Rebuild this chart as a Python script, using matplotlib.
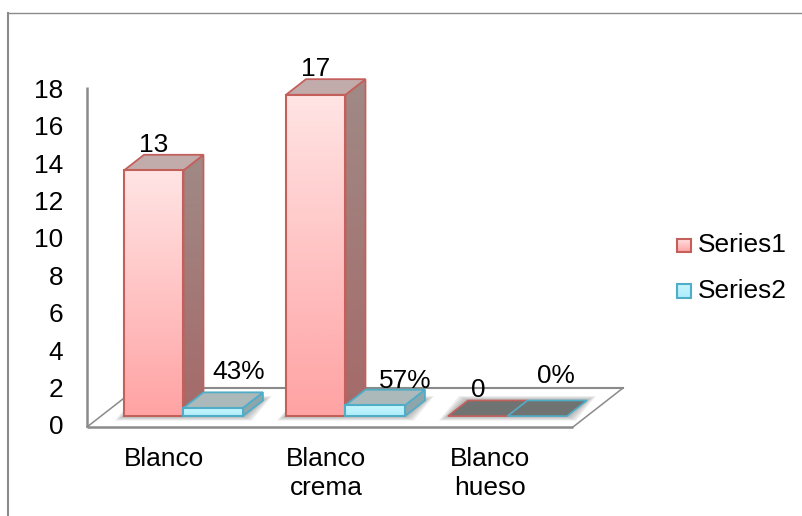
import numpy as np
import matplotlib
matplotlib.use('Agg')
import matplotlib.pyplot as plt
from matplotlib.colors import LinearSegmentedColormap
from matplotlib.lines import Line2D
from matplotlib.patches import Polygon

plt.rcParams['font.family'] = ['Liberation Sans', 'DejaVu Sans']

categories = ['Blanco', 'Blanco\ncrema', 'Blanco\nhueso']
series1 = [13, 17, 0]
series2 = [0.43, 0.57, 0]
labels1 = ['13', '17', '0']
labels2 = ['43%', '57%', '0%']
y_ticks = [0, 2, 4, 6, 8, 10, 12, 14, 16, 18]

# pixel layout of the plot, everything else is in data units
W, H = 802, 516
X0, Y0 = 87, 427
CAT_PX = 162.0
UNIT_PX = 18.9
DX_FLOOR = 50 / CAT_PX
DY_FLOOR = 39 / UNIT_PX
BAR_W = 0.367
BAR_START = 0.142
D_FRONT = 0.28
D_BACK = 0.68
FS = 18.9


def project(x, v, d=0.0):
    return x + d * DX_FLOOR, v + d * DY_FLOOR


def px(x, y):
    # pixel position to data position
    return (x - X0) / CAT_PX, (Y0 - y) / UNIT_PX


def vgrad(ax, pts, top, bottom, zorder):
    pts = np.array(pts)
    cmap = LinearSegmentedColormap.from_list('g', [bottom, top])
    grad = np.linspace(0, 1, 64).reshape(-1, 1)
    im = ax.imshow(grad, cmap=cmap, origin='lower', aspect='auto', interpolation='bilinear',
                   extent=(pts[:, 0].min(), pts[:, 0].max(), pts[:, 1].min(), pts[:, 1].max()),
                   zorder=zorder)
    clip = Polygon(pts, closed=True, transform=ax.transData, fc='none', ec='none')
    ax.add_patch(clip)
    im.set_clip_path(clip)


def shadow(ax, x, w, zorder):
    # soft halo on the floor around the base of a bar
    for grow in [9, 7, 5, 3, 1]:
        gx = grow / CAT_PX
        gy = grow * 0.5 / UNIT_PX
        pts = [project(x - gx, -gy, D_FRONT), project(x + w + gx, -gy, D_FRONT),
               project(x + w + gx, gy, D_BACK), project(x - gx, gy, D_BACK)]
        ax.add_patch(Polygon(pts, closed=True, fc='black', ec='none', alpha=0.07, zorder=zorder))


def bar3d(ax, x, v, w, colors, zorder):
    edge = colors['edge']
    f = [project(x, 0, D_FRONT), project(x + w, 0, D_FRONT),
         project(x + w, v, D_FRONT), project(x, v, D_FRONT)]
    s = [project(x + w, 0, D_FRONT), project(x + w, 0, D_BACK),
         project(x + w, v, D_BACK), project(x + w, v, D_FRONT)]
    t = [project(x, v, D_FRONT), project(x + w, v, D_FRONT),
         project(x + w, v, D_BACK), project(x, v, D_BACK)]
    if v > 0:
        vgrad(ax, s, colors['side_top'], colors['side_bottom'], zorder)
        ax.add_patch(Polygon(s, closed=True, fc='none', ec=edge, lw=1.3, zorder=zorder + 0.1))
        ax.add_patch(Polygon(t, closed=True, fc=colors['top'], ec=edge, lw=1.3, zorder=zorder + 0.2))
        vgrad(ax, f, colors['front_top'], colors['front_bottom'], zorder + 0.3)
        ax.add_patch(Polygon(f, closed=True, fc='none', ec=edge, lw=1.5, zorder=zorder + 0.4))
    else:
        ax.add_patch(Polygon(t, closed=True, fc='#6f7472', ec=edge, lw=1.2, zorder=zorder + 0.2))


red = dict(edge='#c4605c', top='#c2acab', side_top='#a08a86', side_bottom='#a56a69',
           front_top='#ffe4e4', front_bottom='#ffa3a4')
blue = dict(edge='#4fadc8', top='#abb9bb', side_top='#8ea6ab', side_bottom='#8ea6ab',
            front_top='#c8f6fd', front_bottom='#aeeefb')

fig = plt.figure(figsize=(W / 100, H / 100), dpi=100)
ax = fig.add_axes([0, 0, 1, 1])
ax.set_xlim(-X0 / CAT_PX, (W - X0) / CAT_PX)
ax.set_ylim((Y0 - H) / UNIT_PX, Y0 / UNIT_PX)
ax.autoscale(False)
ax.axis('off')

# chart frame, open on the right and bottom
grey = '#8a8a8a'
fig.add_artist(Line2D([8 / W, 8 / W], [0, 1 - 13 / H], color=grey, lw=1.5))
fig.add_artist(Line2D([8 / W, 1], [1 - 13 / H, 1 - 13 / H], color=grey, lw=1.0))

# floor and value axis
n = len(categories)
ax.plot(*zip(project(0, 0), project(n, 0)), color=grey, lw=1.8, zorder=1, solid_capstyle='butt')
ax.plot(*zip(project(0, 0, 1), project(n, 0, 1)), color=grey, lw=1.5, zorder=1)
ax.plot(*zip(project(0, 0), project(0, 0, 1)), color=grey, lw=1.1, zorder=1)
ax.plot(*zip(project(n, 0), project(n, 0, 1)), color=grey, lw=1.1, zorder=1)
ax.plot([0, 0], [0, y_ticks[-1]], color=grey, lw=1.8, zorder=1, solid_capstyle='butt')

for t in y_ticks:
    ax.text(-24 / CAT_PX, t * 0.99 - 0.5 / UNIT_PX, str(t), ha='right', va='center', fontsize=FS, color='black')

# bars
for i in range(n):
    x1 = i + BAR_START
    x2 = x1 + BAR_W
    shadow(ax, x1, BAR_W * 2, 2)
    bar3d(ax, x1, series1[i], BAR_W, red, 3 + i)
    bar3d(ax, x2, series2[i], BAR_W, blue, 3.5 + i)

# data labels (pixel offsets from the front top corner of each bar)
offs1 = [(30, 18), (30, 19), (30, 19)]
offs2 = [(55, 29), (60, 17), (48, 33)]
for i in range(n):
    xa, ya = project(i + BAR_START, series1[i], D_FRONT)
    xb, yb = project(i + BAR_START + BAR_W, series2[i], D_FRONT)
    ax.text(xa + offs1[i][0] / CAT_PX, ya + offs1[i][1] / UNIT_PX, labels1[i], ha='center', va='baseline',
            fontsize=FS, color='black', zorder=20)
    ax.text(xb + offs2[i][0] / CAT_PX, yb + offs2[i][1] / UNIT_PX, labels2[i], ha='center', va='baseline',
            fontsize=FS, color='black', zorder=20)

# category labels
cat_nudge = [0, 0, 2]
for i, c in enumerate(categories):
    ax.text(i + 0.475 + cat_nudge[i] / CAT_PX, -20 / UNIT_PX, c, ha='center', va='top', fontsize=FS,
            linespacing=1.27, color='black')

# legend
for name, col, yc in [('Series1', red, 245.5), ('Series2', blue, 290.5)]:
    xa, ya = px(677, yc + 7)
    xb, yb = px(691, yc - 7)
    box = [(xa, ya), (xb, ya), (xb, yb), (xa, yb)]
    vgrad(ax, box, col['front_top'], col['front_bottom'], 5)
    ax.add_patch(Polygon(box, closed=True, fc='none', ec=col['edge'], lw=1.5, zorder=6))
    tx, ty = px(698, yc)
    ax.text(tx, ty, name, ha='left', va='center', fontsize=FS, color='black')

fig.savefig('out.png', dpi=100, facecolor='white')
